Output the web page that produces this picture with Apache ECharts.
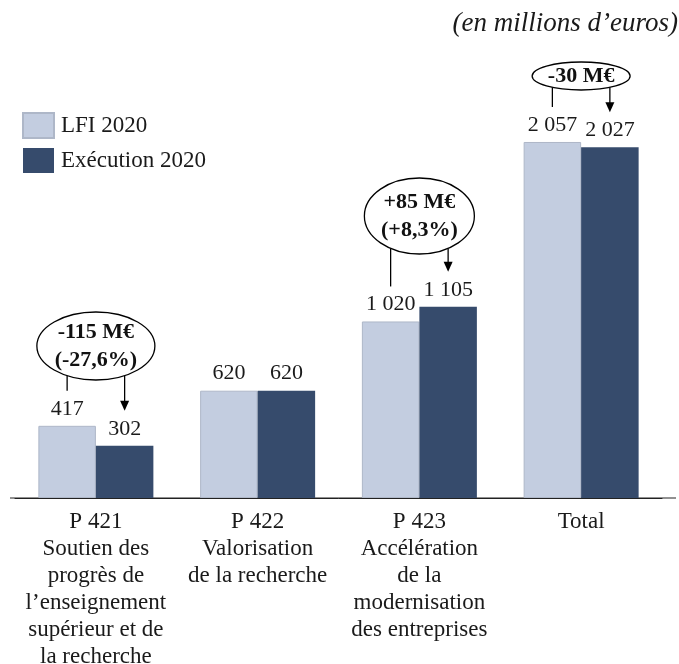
<!DOCTYPE html>
<html>
<head>
<meta charset="utf-8">
<script src="https://cdn.jsdelivr.net/npm/echarts@6/dist/echarts.min.js"></script>
<style>
  html, body { margin: 0; padding: 0; background: #fff; }
  #main { width: 679px; height: 664px; }
</style>
</head>
<body>
<div id="main"></div>
<script>
var categories = [
    'P 421\nSoutien des\nprogrès de\nl\u2019enseignement\nsupérieur et de\nla recherche',
    'P 422\nValorisation\nde la recherche',
    'P 423\nAccélération\nde la\nmodernisation\ndes entreprises',
    'Total'
];
var lfi2020 = [417, 620, 1020, 2057];
var execution2020 = [302, 620, 1105, 2027];

// écarts affichés dans les bulles
var ecartIndex = [0, 2, 3];
var ecartTexts = [['-115 M€', '(-27,6%)'], ['+85 M€', '(+8,3%)'], ['-30 M€']];

var FONT = '"Liberation Serif", "DejaVu Serif", serif';
var LIGHT = '#c3cde0';
var DARK = '#364b6c';
var BAR_W = 57.5;

var chart = echarts.init(document.getElementById('main'));

function fmt(v) {
    return String(v).replace(/\B(?=(\d{3})+(?!\d))/g, ' ');
}

var option = {
    animation: false,
    textStyle: { fontFamily: FONT, color: '#1a1a1a' },
    title: {
        text: '(en millions d\u2019euros)',
        right: -4,
        top: 5,
        textStyle: { fontFamily: FONT, fontStyle: 'italic', fontWeight: 'normal', fontSize: 27, color: '#1a1a1a' }
    },
    legend: {
        orient: 'vertical',
        left: 17,
        top: 107,
        itemWidth: 31,
        itemHeight: 25,
        itemGap: 9,
        icon: 'rect',
        textStyle: { fontFamily: FONT, fontSize: 23, color: '#1a1a1a', padding: [0, 0, 0, 2] },
        data: ['LFI 2020', 'Exécution 2020']
    },
    grid: { left: 15, right: 17, top: 48, bottom: 166, outerBoundsMode: 'none' },
    xAxis: {
        type: 'category',
        data: categories,
        axisTick: { show: false },
        axisLine: { lineStyle: { color: '#222', width: 1 } },
        axisLabel: {
            interval: 0,
            margin: 10,
            fontFamily: FONT,
            fontSize: 23,
            lineHeight: 27,
            color: '#1a1a1a',
            align: 'center',
            verticalAlign: 'top'
        }
    },
    yAxis: {
        type: 'value',
        min: 0,
        max: 2600,
        show: false
    },
    series: [{
        name: 'LFI 2020',
        type: 'bar',
        data: lfi2020,
        barWidth: BAR_W,
        barGap: '0%',
        itemStyle: { color: LIGHT, borderColor: '#aeb7c8', borderWidth: 1 },
        label: {
            show: true, position: 'top', distance: 6,
            fontFamily: FONT, fontSize: 22, color: '#1a1a1a',
            formatter: function (p) { return fmt(p.value); }
        }
    }, {
        name: 'Exécution 2020',
        type: 'bar',
        data: execution2020,
        barWidth: BAR_W,
        barGap: '0%',
        itemStyle: { color: DARK },
        label: {
            show: true, position: 'top', distance: 6,
            fontFamily: FONT, fontSize: 22, color: '#1a1a1a',
            formatter: function (p) { return fmt(p.value); }
        }
    }]
};

chart.setOption(option);

// bulles d'écart : placement (centre vertical, rayons)
var bubbleCy = [346, 216, 76];
var bubbleRx = [59, 55, 49];
var bubbleRy = [34, 38, 14];

var elements = [];
var base = chart.convertToPixel({ gridIndex: 0 }, [0, 0]);
elements.push({
    type: 'line',
    shape: { x1: 10, y1: base[1], x2: 676, y2: base[1] },
    style: { stroke: '#222', lineWidth: 1 }
});

ecartIndex.forEach(function (idx, k) {
    var cx = chart.convertToPixel({ gridIndex: 0 }, [idx, 0])[0];
    var cy = bubbleCy[k], rx = bubbleRx[k], ry = bubbleRy[k];
    var lx = cx - BAR_W / 2, dx = cx + BAR_W / 2;
    var lEnd = chart.convertToPixel({ gridIndex: 0 }, [idx, lfi2020[idx]])[1] - 35;
    var dEnd = chart.convertToPixel({ gridIndex: 0 }, [idx, execution2020[idx]])[1] - 35;
    function edge(x) {
        var t = (x - cx) / rx;
        return cy + ry * Math.sqrt(Math.max(0, 1 - t * t));
    }
    elements.push({
        type: 'line',
        shape: { x1: lx, y1: edge(lx), x2: lx, y2: lEnd },
        style: { stroke: '#000', lineWidth: 1.3 }
    });
    elements.push({
        type: 'line',
        shape: { x1: dx, y1: edge(dx), x2: dx, y2: dEnd - 8 },
        style: { stroke: '#000', lineWidth: 1.3 }
    });
    elements.push({
        type: 'polygon',
        shape: { points: [[dx - 4.5, dEnd - 10], [dx + 4.5, dEnd - 10], [dx, dEnd]] },
        style: { fill: '#000' }
    });
    elements.push({
        type: 'ellipse',
        shape: { cx: cx, cy: cy, rx: rx, ry: ry },
        style: { fill: '#fff', stroke: '#000', lineWidth: 1.3 }
    });
    elements.push({
        type: 'text',
        x: cx,
        y: cy,
        style: {
            text: ecartTexts[k].join('\n'),
            align: 'center',
            verticalAlign: 'middle',
            font: 'bold 22px ' + FONT,
            lineHeight: 28,
            fill: '#111'
        }
    });
});

chart.setOption({ graphic: elements });
</script>
</body>
</html>
